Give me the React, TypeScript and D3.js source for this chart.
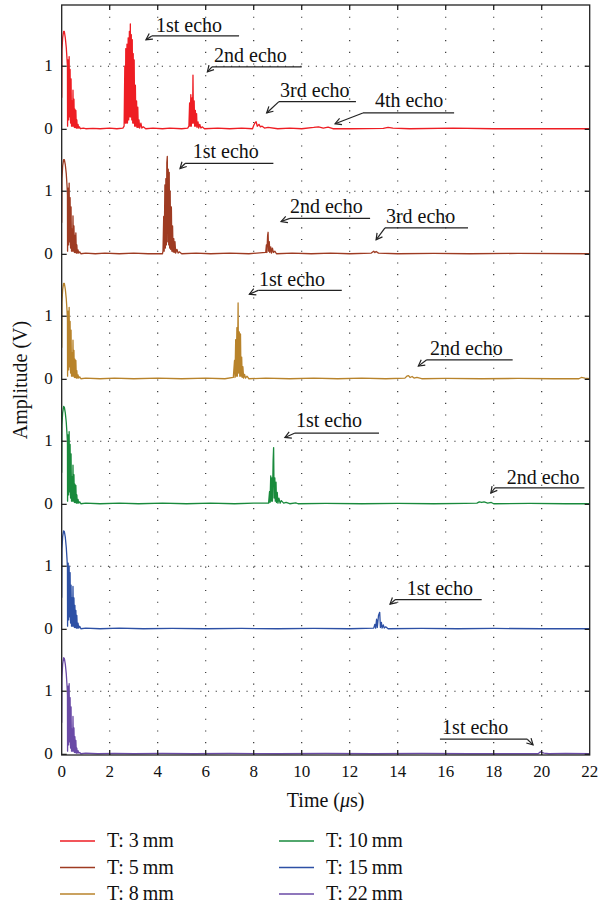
import * as d3 from 'd3'

// thickness labels and trace colours
const labels = ['T: 3\u2009mm', 'T: 5\u2009mm', 'T: 8\u2009mm', 'T: 10\u2009mm', 'T: 15\u2009mm', 'T: 22\u2009mm']
const colors = ['#ee1d23', '#9e3b22', '#b8832b', '#198a3c', '#2d50a5', '#6a4aa6']

const xTicks = [0, 2, 4, 6, 8, 10, 12, 14, 16, 18, 20, 22]
const yTicks = [0, 1]

// time (us), amplitude (V)
const trace3mm: [number, number][] = [
  [0, 0.5], [0.01, 1.25], [0.04, 1.45], [0.08, 1.55], [0.11, 1.55], [0.15, 1.45], [0.19, 1.3], [0.22, 1.12], [0.24, 1.0], [0.245, 0.05],
  [0.27, 1.1], [0.29, 0.15], [0.31, 1.15], [0.33, 0.2], [0.35, 0.95], [0.37, 0.1], [0.39, 0.8], [0.41, 0.05], [0.43, 0.45], [0.45, 0.05],
  [0.47, 0.62], [0.49, 0.05], [0.51, 0.48], [0.53, 0.03], [0.55, 0.32], [0.57, 0.03], [0.59, 0.3], [0.61, 0.02], [0.63, 0.15], [0.65, 0.02],
  [0.68, 0.08], [0.71, 0.02], [0.74, 0.04], [0.78, 0.01], [0.9, 0.02], [1.0, 0.01], [1.3, 0.015], [1.6, 0.01], [2.0, 0.02], [2.3, 0.01], [2.55, 0.02],
  [2.6, 0.05], [2.63, 1.0], [2.65, 0.1], [2.67, 1.28], [2.69, 0.1], [2.72, 1.35], [2.74, 0.1], [2.77, 1.45], [2.79, 0.15], [2.82, 1.55],
  [2.84, 0.2], [2.86, 1.67], [2.88, 0.2], [2.9, 1.5], [2.92, 0.15], [2.94, 1.42], [2.96, 0.1], [2.98, 1.2], [3.0, 0.1], [3.02, 1.1],
  [3.04, 0.05], [3.07, 0.7], [3.09, 0.05], [3.12, 0.45], [3.14, 0.03], [3.17, 0.35], [3.19, 0.03], [3.22, 0.15], [3.25, 0.02], [3.3, 0.1],
  [3.34, 0.02], [3.4, 0.04], [3.5, 0.01], [3.8, 0.02], [4.2, 0.01], [4.5, 0.02], [5.0, 0.01], [5.25, 0.02],
  [5.3, 0.05], [5.33, 0.42], [5.35, 0.05], [5.38, 0.55], [5.4, 0.05], [5.43, 0.5], [5.45, 0.1], [5.47, 0.86], [5.49, 0.1], [5.52, 0.45],
  [5.54, 0.05], [5.57, 0.3], [5.59, 0.05], [5.62, 0.25], [5.64, 0.03], [5.68, 0.12], [5.71, 0.02], [5.75, 0.08], [5.8, 0.02], [5.85, 0.04],
  [5.95, 0.01], [6.5, 0.02], [7.0, 0.01], [7.5, 0.02], [7.95, 0.01],
  [8.0, 0.06], [8.05, 0.1], [8.1, 0.12], [8.15, 0.05], [8.22, 0.08], [8.28, 0.04], [8.35, 0.05], [8.45, 0.02], [8.6, 0.03], [9.0, 0.01],
  [9.5, 0.02], [10.0, 0.01], [10.5, 0.03], [10.7, 0.04], [10.9, 0.02], [11.1, 0.035], [11.3, 0.01], [12.0, 0.01], [13.4, 0.015], [13.6, 0.03],
  [13.8, 0.02], [14.5, 0.01], [16.3, 0.02], [18.0, 0.01], [20.0, 0.01], [22, 0.01],
]

const trace5mm: [number, number][] = [
  [0, 0.5], [0.01, 1.2], [0.04, 1.4], [0.08, 1.5], [0.11, 1.5], [0.15, 1.42], [0.19, 1.28], [0.22, 1.1], [0.24, 0.95], [0.245, 0.05],
  [0.27, 1.05], [0.29, 0.15], [0.31, 1.13], [0.33, 0.2], [0.35, 0.9], [0.37, 0.1], [0.39, 0.75], [0.41, 0.05], [0.43, 0.4], [0.45, 0.05],
  [0.47, 0.61], [0.49, 0.05], [0.51, 0.45], [0.53, 0.03], [0.55, 0.3], [0.57, 0.03], [0.59, 0.34], [0.61, 0.02], [0.63, 0.15], [0.65, 0.02],
  [0.68, 0.07], [0.71, 0.02], [0.75, 0.04], [0.8, 0.01], [1.0, 0.02], [1.4, 0.01], [1.8, 0.02], [2.4, 0.01], [3.0, 0.02], [3.6, 0.01], [4.2, 0.01],
  [4.22, 0.05], [4.25, 0.6], [4.27, 0.05], [4.3, 1.1], [4.32, 0.1], [4.34, 1.2], [4.36, 0.15], [4.38, 1.45], [4.4, 1.55], [4.42, 0.2],
  [4.44, 1.35], [4.46, 0.15], [4.48, 1.3], [4.5, 0.1], [4.52, 1.0], [4.54, 0.08], [4.57, 0.75], [4.59, 0.05], [4.62, 0.45], [4.64, 0.04],
  [4.67, 0.25], [4.69, 0.03], [4.72, 0.2], [4.75, 0.02], [4.8, 0.08], [4.85, 0.02], [4.9, 0.04], [5.0, 0.01], [5.6, 0.02], [6.2, 0.01],
  [7.0, 0.02], [7.8, 0.01], [8.5, 0.03],
  [8.53, 0.15], [8.55, 0.03], [8.58, 0.3], [8.6, 0.35], [8.62, 0.05], [8.65, 0.2], [8.67, 0.03], [8.71, 0.12], [8.74, 0.02], [8.78, 0.1],
  [8.82, 0.03], [8.88, 0.05], [8.95, 0.01], [9.6, 0.02], [10.4, 0.01], [11.2, 0.02], [12.0, 0.01], [12.9, 0.02],
  [13.0, 0.05], [13.05, 0.03], [13.1, 0.045], [13.2, 0.02], [14.0, 0.01], [15.5, 0.015], [17.0, 0.01], [19.0, 0.015], [22, 0.01],
]

const trace8mm: [number, number][] = [
  [0, 0.5], [0.01, 1.22], [0.04, 1.42], [0.08, 1.52], [0.11, 1.52], [0.15, 1.43], [0.19, 1.28], [0.22, 1.1], [0.24, 0.95], [0.245, 0.05],
  [0.27, 1.08], [0.29, 0.15], [0.31, 1.14], [0.33, 0.2], [0.35, 0.92], [0.37, 0.1], [0.39, 0.78], [0.41, 0.05], [0.43, 0.42], [0.45, 0.05],
  [0.47, 0.62], [0.49, 0.05], [0.51, 0.46], [0.53, 0.03], [0.55, 0.32], [0.57, 0.03], [0.59, 0.3], [0.61, 0.02], [0.63, 0.14], [0.65, 0.02],
  [0.68, 0.07], [0.71, 0.02], [0.75, 0.04], [0.8, 0.01], [1.0, 0.02], [1.6, 0.01], [2.2, 0.02], [3.0, 0.01], [4.0, 0.02], [5.0, 0.01],
  [6.0, 0.02], [6.8, 0.01], [7.15, 0.03],
  [7.2, 0.3], [7.22, 0.03], [7.25, 0.63], [7.27, 0.05], [7.3, 0.82], [7.32, 0.05], [7.35, 1.21], [7.37, 0.1], [7.4, 0.75], [7.42, 0.05],
  [7.45, 0.72], [7.47, 0.05], [7.5, 0.35], [7.52, 0.03], [7.55, 0.2], [7.58, 0.02], [7.62, 0.08], [7.66, 0.02], [7.72, 0.05], [7.8, 0.01],
  [8.5, 0.02], [9.5, 0.01], [10.5, 0.02], [11.5, 0.01], [12.5, 0.02], [13.5, 0.01], [14.3, 0.02],
  [14.38, 0.05], [14.45, 0.06], [14.52, 0.03], [14.6, 0.045], [14.68, 0.02], [14.8, 0.03], [15.0, 0.01], [16.0, 0.015], [17.5, 0.01],
  [19.0, 0.015], [20.5, 0.01], [21.55, 0.01], [21.65, 0.03], [21.8, 0.02], [22, 0.01],
]

const trace10mm: [number, number][] = [
  [0, 0.5], [0.01, 1.25], [0.04, 1.45], [0.08, 1.55], [0.11, 1.54], [0.15, 1.45], [0.19, 1.3], [0.22, 1.12], [0.24, 0.98], [0.245, 0.05],
  [0.27, 1.1], [0.29, 0.15], [0.31, 1.15], [0.33, 0.2], [0.35, 0.95], [0.37, 0.1], [0.39, 0.8], [0.41, 0.05], [0.43, 0.44], [0.45, 0.05],
  [0.47, 0.62], [0.49, 0.05], [0.51, 0.47], [0.53, 0.03], [0.55, 0.32], [0.57, 0.03], [0.59, 0.3], [0.61, 0.02], [0.63, 0.15], [0.65, 0.02],
  [0.68, 0.08], [0.71, 0.02], [0.75, 0.04], [0.8, 0.01], [1.0, 0.02], [1.6, 0.01], [2.4, 0.02], [3.2, 0.01], [4.2, 0.02], [5.2, 0.01],
  [6.2, 0.02], [7.2, 0.01], [8.0, 0.02], [8.62, 0.02],
  [8.66, 0.2], [8.68, 0.03], [8.71, 0.45], [8.73, 0.05], [8.76, 0.42], [8.78, 0.05], [8.81, 0.7], [8.83, 0.9], [8.85, 0.1], [8.88, 0.42],
  [8.9, 0.05], [8.93, 0.35], [8.95, 0.03], [8.98, 0.19], [9.01, 0.02], [9.05, 0.1], [9.1, 0.02], [9.15, 0.06], [9.25, 0.02], [9.35, 0.03],
  [9.5, 0.01], [9.75, 0.025], [9.85, 0.01], [11.0, 0.015], [12.5, 0.01], [14.0, 0.015], [15.5, 0.01], [16.8, 0.015], [17.3, 0.02],
  [17.4, 0.04], [17.5, 0.03], [17.6, 0.04], [17.75, 0.02], [17.9, 0.03], [18.0, 0.01], [19.5, 0.015], [21.0, 0.01], [22, 0.01],
]

const trace15mm: [number, number][] = [
  [0, 0.5], [0.01, 1.27], [0.04, 1.47], [0.08, 1.56], [0.11, 1.55], [0.15, 1.46], [0.19, 1.3], [0.22, 1.12], [0.24, 0.98], [0.245, 0.05],
  [0.27, 1.05], [0.29, 0.15], [0.31, 1.0], [0.33, 0.2], [0.35, 0.9], [0.37, 0.1], [0.39, 0.7], [0.41, 0.05], [0.43, 0.5], [0.45, 0.05],
  [0.47, 0.68], [0.49, 0.05], [0.51, 0.5], [0.53, 0.03], [0.55, 0.38], [0.57, 0.03], [0.59, 0.3], [0.61, 0.02], [0.63, 0.22], [0.65, 0.02],
  [0.68, 0.1], [0.71, 0.02], [0.75, 0.05], [0.8, 0.01], [1.0, 0.02], [1.6, 0.01], [2.4, 0.02], [3.4, 0.01], [4.6, 0.015], [6.0, 0.01],
  [7.5, 0.015], [9.0, 0.01], [10.5, 0.015], [12.0, 0.01], [13.0, 0.02],
  [13.05, 0.08], [13.08, 0.02], [13.12, 0.16], [13.15, 0.03], [13.2, 0.22], [13.25, 0.27], [13.28, 0.03], [13.32, 0.11], [13.35, 0.02],
  [13.4, 0.07], [13.44, 0.02], [13.5, 0.04], [13.6, 0.01], [15.0, 0.015], [16.5, 0.01], [18.0, 0.015], [20.0, 0.01], [22, 0.01],
]

const trace22mm: [number, number][] = [
  [0, 0.5], [0.01, 1.22], [0.04, 1.43], [0.08, 1.53], [0.11, 1.52], [0.15, 1.43], [0.19, 1.28], [0.22, 1.1], [0.24, 0.95], [0.245, 0.05],
  [0.27, 1.08], [0.29, 0.15], [0.31, 1.12], [0.33, 0.2], [0.35, 0.9], [0.37, 0.1], [0.39, 0.75], [0.41, 0.05], [0.43, 0.4], [0.45, 0.05],
  [0.47, 0.6], [0.49, 0.05], [0.51, 0.42], [0.53, 0.03], [0.55, 0.28], [0.57, 0.03], [0.59, 0.22], [0.61, 0.02], [0.63, 0.1], [0.65, 0.02],
  [0.68, 0.06], [0.71, 0.02], [0.75, 0.03], [0.8, 0.01], [1.0, 0.02], [1.5, 0.01], [2.2, 0.015], [3.0, 0.01], [4.2, 0.015], [5.5, 0.01],
  [7.0, 0.015], [9.0, 0.01], [11.0, 0.015], [13.0, 0.01], [15.0, 0.015], [17.0, 0.01], [19.0, 0.01], [19.85, 0.01],
  [19.95, 0.04], [20.0, 0.03], [20.1, 0.02], [20.3, 0.01], [21.0, 0.015], [22, 0.01],
]

const traces = [trace3mm, trace5mm, trace8mm, trace10mm, trace15mm, trace22mm]

// annotations: panel, label, arrow tip [t, v], underline [t1, t2, v], text start [t, v], which end the arrow leaves from
type Note = { panel: number; text: string; tip: [number, number]; line: [number, number, number]; at: [number, number]; from: 'left' | 'right' }
const notes: Note[] = [
  { panel: 0, text: '1st echo', tip: [3.51, 1.42], line: [3.75, 7.39, 1.48], at: [3.93, 1.54], from: 'left' },
  { panel: 0, text: '2nd echo', tip: [6.07, 0.91], line: [6.26, 10.0, 0.99], at: [6.35, 1.07], from: 'left' },
  { panel: 0, text: '3rd echo', tip: [8.54, 0.26], line: [9.05, 12.26, 0.44], at: [9.1, 0.52], from: 'left' },
  { panel: 0, text: '4th echo', tip: [11.39, 0.09], line: [12.55, 16.35, 0.26], at: [13.05, 0.36], from: 'left' },
  { panel: 1, text: '1st echo', tip: [4.93, 1.36], line: [5.14, 8.82, 1.44], at: [5.46, 1.53], from: 'left' },
  { panel: 1, text: '2nd echo', tip: [9.14, 0.52], line: [9.51, 12.85, 0.57], at: [9.51, 0.66], from: 'left' },
  { panel: 1, text: '3rd echo', tip: [13.1, 0.23], line: [13.47, 16.93, 0.42], at: [13.51, 0.5], from: 'left' },
  { panel: 2, text: '1st echo', tip: [7.82, 1.35], line: [8.19, 11.67, 1.41], at: [8.22, 1.48], from: 'left' },
  { panel: 2, text: '2nd echo', tip: [14.86, 0.21], line: [15.21, 18.79, 0.31], at: [15.35, 0.38], from: 'left' },
  { panel: 3, text: '1st echo', tip: [9.3, 1.06], line: [9.72, 13.22, 1.13], at: [9.76, 1.22], from: 'left' },
  { panel: 3, text: '2nd echo', tip: [17.88, 0.18], line: [18.05, 21.78, 0.26], at: [18.54, 0.32], from: 'left' },
  { panel: 4, text: '1st echo', tip: [13.68, 0.4], line: [13.89, 17.5, 0.47], at: [14.38, 0.54], from: 'left' },
  { panel: 5, text: '1st echo', tip: [19.64, 0.15], line: [15.76, 19.4, 0.24], at: [15.85, 0.32], from: 'right' },
]

const FONT = "'Liberation Serif', 'DejaVu Serif', 'Times New Roman', Times, serif"
const textStyle = { fontFamily: FONT }

const width = 600
const height = 904
const margin = { top: 5, left: 61.7, right: 10.3, bottom: 149 }
const plotH = height - margin.top - margin.bottom
const panelH = plotH / traces.length

function arrowHead(x0: number, y0: number, x1: number, y1: number) {
  const a = Math.atan2(y0 - y1, x0 - x1)
  const len = 7
  const w = 0.5
  const p1 = [x1 + len * Math.cos(a + w), y1 + len * Math.sin(a + w)]
  const p2 = [x1 + len * Math.cos(a - w), y1 + len * Math.sin(a - w)]
  return `M${p1[0]},${p1[1]}L${x1},${y1}L${p2[0]},${p2[1]}`
}

export default function App() {
  const x = d3.scaleLinear().domain([0, 22]).range([margin.left, width - margin.right])
  const yFor = (i: number) =>
    d3.scaleLinear().domain([-0.01, 1.97]).range([margin.top + (i + 1) * panelH, margin.top + i * panelH])
  const plotBottom = margin.top + plotH
  const innerTicks = xTicks.filter(t => t > 0 && t < 22)

  return (
    <div style={{ position: 'absolute', left: 0, top: 0 }}>
      <svg width={width} height={height} style={{ display: 'block', background: '#fff', fontFamily: FONT }}>
        <defs>
          <clipPath id="plot">
            <rect x={margin.left} y={margin.top} width={width - margin.left - margin.right} height={plotH} />
          </clipPath>
        </defs>

        {/* dotted grid */}
        {innerTicks.map(t => (
          <line key={'gx' + t} x1={x(t)} x2={x(t)} y1={margin.top} y2={plotBottom}
            stroke="#222" strokeWidth={1.1} strokeDasharray="1.1,10.6" />
        ))}
        {traces.map((_, i) => (
          <line key={'gy' + i} x1={margin.left} x2={width - margin.right} y1={yFor(i)(1)} y2={yFor(i)(1)}
            stroke="#222" strokeWidth={1.1} strokeDasharray="1.1,6.6" />
        ))}

        {/* traces */}
        <g clipPath="url(#plot)">
          {traces.map((tr, i) => {
            const y = yFor(i)
            const line = d3.line<[number, number]>().x(d => x(d[0])).y(d => y(d[1]))
            return <path key={i} d={line(tr) || ''} fill="none" stroke={colors[i]} strokeWidth={1.3} strokeLinejoin="round" />
          })}
        </g>

        {/* frame */}
        <rect x={margin.left} y={margin.top} width={width - margin.left - margin.right} height={plotH}
          fill="none" stroke="#222" strokeWidth={1.3} />

        {/* x ticks */}
        {innerTicks.map(t => (
          <g key={'xt' + t} stroke="#222" strokeWidth={1.3}>
            <line x1={x(t)} x2={x(t)} y1={margin.top} y2={margin.top + 5} />
            <line x1={x(t)} x2={x(t)} y1={plotBottom} y2={plotBottom - 5} />
          </g>
        ))}
        {xTicks.map(t => (
          <text key={'xl' + t} style={textStyle} x={x(t)} y={plotBottom + 22} textAnchor="middle" fontSize={17} fill="#111">{t}</text>
        ))}

        {/* y ticks per panel */}
        {traces.map((_, i) => {
          const y = yFor(i)
          return (
            <g key={'yt' + i}>
              {yTicks.map(v => (
                <g key={v}>
                  <line x1={margin.left} x2={margin.left + 5} y1={y(v)} y2={y(v)} stroke="#222" strokeWidth={1.3} />
                  <line x1={width - margin.right} x2={width - margin.right - 5} y1={y(v)} y2={y(v)} stroke="#222" strokeWidth={1.3} />
                  <text style={textStyle} x={margin.left - 9} y={y(v) + 5} textAnchor="end" fontSize={17} fill="#111">{v}</text>
                </g>
              ))}
            </g>
          )
        })}

        {/* echo annotations */}
        {notes.map((n, k) => {
          const y = yFor(n.panel)
          const lx1 = x(n.line[0])
          const lx2 = x(n.line[1])
          const ly = y(n.line[2])
          const sx = n.from === 'left' ? lx1 : lx2
          const tx = x(n.tip[0])
          const ty = y(n.tip[1])
          return (
            <g key={'n' + k}>
              <text style={textStyle} x={x(n.at[0])} y={y(n.at[1])} fontSize={20} fill="#111">{n.text}</text>
              <line x1={lx1} x2={lx2} y1={ly} y2={ly} stroke="#222" strokeWidth={1.2} />
              <line x1={sx} y1={ly} x2={tx} y2={ty} stroke="#222" strokeWidth={1.2} />
              <path d={arrowHead(sx, ly, tx, ty)} fill="none" stroke="#222" strokeWidth={1.2} />
            </g>
          )
        })}

        {/* axis titles */}
        <text style={textStyle} transform={`translate(27,${margin.top + plotH / 2}) rotate(-90)`} textAnchor="middle" fontSize={20} fill="#111">
          Amplitude (V)
        </text>
        <text style={textStyle} x={(x(0) + x(22)) / 2} y={plotBottom + 52} textAnchor="middle" fontSize={20} fill="#111">
          Time (<tspan fontStyle="italic">μ</tspan>s)
        </text>

        {/* legend */}
        {labels.map((lab, i) => {
          const col = Math.floor(i / 3)
          const row = i % 3
          const lx = col === 0 ? 60 : 279
          const ly = 841 + row * 26.5
          return (
            <g key={'lg' + i}>
              <line x1={lx} x2={lx + 35} y1={ly} y2={ly} stroke={colors[i]} strokeWidth={1.5} />
              <text style={textStyle} x={lx + 47} y={ly + 6} fontSize={20} fill="#111">{lab}</text>
            </g>
          )
        })}
      </svg>
    </div>
  )
}
